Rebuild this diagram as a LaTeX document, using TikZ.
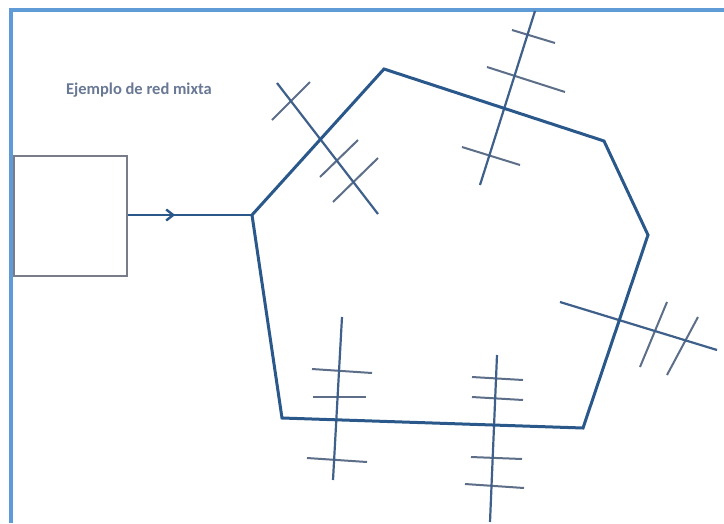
\documentclass[tikz,border=0pt]{standalone}
\usepackage{fontspec}
\setmainfont{Carlito}
\usetikzlibrary{arrows.meta,decorations.markings}
\definecolor{frameblue}{RGB}{95,155,215}
\definecolor{netblue}{RGB}{42,88,138}
\definecolor{antblue}{RGB}{62,96,138}
\definecolor{tickgray}{RGB}{92,110,136}
\definecolor{titlecol}{RGB}{105,120,148}
\definecolor{boxgray}{RGB}{120,125,135}
\tikzset{
  frame/.style={draw=frameblue,line width=3.2pt},
  net/.style={draw=netblue,line width=3pt,line join=miter},
  antenna/.style={draw=antblue,line width=2.2pt},
  tick/.style={draw=tickgray,line width=2pt},
  terminal/.style={draw=boxgray,line width=2pt,fill=white,inner sep=0pt,minimum width=113pt,minimum height=120pt},
  titletext/.style={text=titlecol,font=\bfseries\fontsize{16.5}{19}\selectfont},
  feed/.style={draw=netblue,line width=2.6pt,postaction={decorate},
    decoration={markings,mark=at position 0.38 with {\arrow{Straight Barb[length=7pt,width=11pt,line width=2.4pt]}}}}
}
\begin{document}
\begin{tikzpicture}[x=1pt,y=-1pt]
\useasboundingbox (0,0) rectangle (724,523);
\fill[white] (0,0) rectangle (724,523);
% frame (top and left)
\coordinate (fTL) at (11,10);
\coordinate (fTR) at (724,10);
\coordinate (fBL) at (11,523);
\draw[frame] (fTR) -- (fTL) -- (fBL);
% title
\node[titletext] (title) at (139,90) {Ejemplo de red mixta};
% terminal box
\node[terminal] (box) at (70.5,216) {};
% polygon vertices
\coordinate (A) at (252,215);
\coordinate (B) at (384,69);
\coordinate (C) at (604,141);
\coordinate (D) at (648,235);
\coordinate (E) at (583,428);
\coordinate (F) at (282,418);
% feed line
\draw[feed] (box.east |- A) -- (A);
% antenna 1 (upper left)
\coordinate (a1s) at (277,83);
\coordinate (a1e) at (378,214);
\coordinate (t11s) at (272,120); \coordinate (t11e) at (310,82);
\coordinate (t12s) at (320,177); \coordinate (t12e) at (358,140);
\coordinate (t13s) at (333,202); \coordinate (t13e) at (378,158);
\draw[tick] (t11s) -- (t11e);
\draw[tick] (t12s) -- (t12e);
\draw[tick] (t13s) -- (t13e);
\draw[antenna] (a1s) -- (a1e);
% antenna 2 (top)
\coordinate (a2s) at (535,11);
\coordinate (a2e) at (480,185);
\coordinate (t21s) at (512,30); \coordinate (t21e) at (555,43);
\coordinate (t22s) at (487,67); \coordinate (t22e) at (565,92);
\coordinate (t23s) at (462,147); \coordinate (t23e) at (520,165);
\draw[tick] (t21s) -- (t21e);
\draw[tick] (t22s) -- (t22e);
\draw[tick] (t23s) -- (t23e);
\draw[antenna] (a2s) -- (a2e);
% antenna 3 (right)
\coordinate (a3s) at (560,302);
\coordinate (a3e) at (717,350);
\coordinate (t31s) at (667,302); \coordinate (t31e) at (640,367);
\coordinate (t32s) at (698,317); \coordinate (t32e) at (667,375);
\draw[tick] (t31s) -- (t31e);
\draw[tick] (t32s) -- (t32e);
\draw[antenna] (a3s) -- (a3e);
% antenna 4 (bottom left)
\coordinate (a4s) at (342,317);
\coordinate (a4e) at (333,480);
\coordinate (t41s) at (312,369); \coordinate (t41e) at (372,373);
\coordinate (t42s) at (313,397); \coordinate (t42e) at (366,397);
\coordinate (t43s) at (307,458); \coordinate (t43e) at (367,462);
\draw[tick] (t41s) -- (t41e);
\draw[tick] (t42s) -- (t42e);
\draw[tick] (t43s) -- (t43e);
\draw[antenna] (a4s) -- (a4e);
% antenna 5 (bottom right)
\coordinate (a5s) at (497,355);
\coordinate (a5e) at (490,522);
\coordinate (t51s) at (472,377); \coordinate (t51e) at (523,380);
\coordinate (t52s) at (472,397); \coordinate (t52e) at (523,400);
\coordinate (t53s) at (471,457); \coordinate (t53e) at (522,459);
\coordinate (t54s) at (465,484); \coordinate (t54e) at (524,488);
\draw[tick] (t51s) -- (t51e);
\draw[tick] (t52s) -- (t52e);
\draw[tick] (t53s) -- (t53e);
\draw[tick] (t54s) -- (t54e);
\draw[antenna] (a5s) -- (a5e);
% ring network
\draw[net] (A) -- (B) -- (C) -- (D) -- (E) -- (F) -- cycle;
\end{tikzpicture}
\end{document}
